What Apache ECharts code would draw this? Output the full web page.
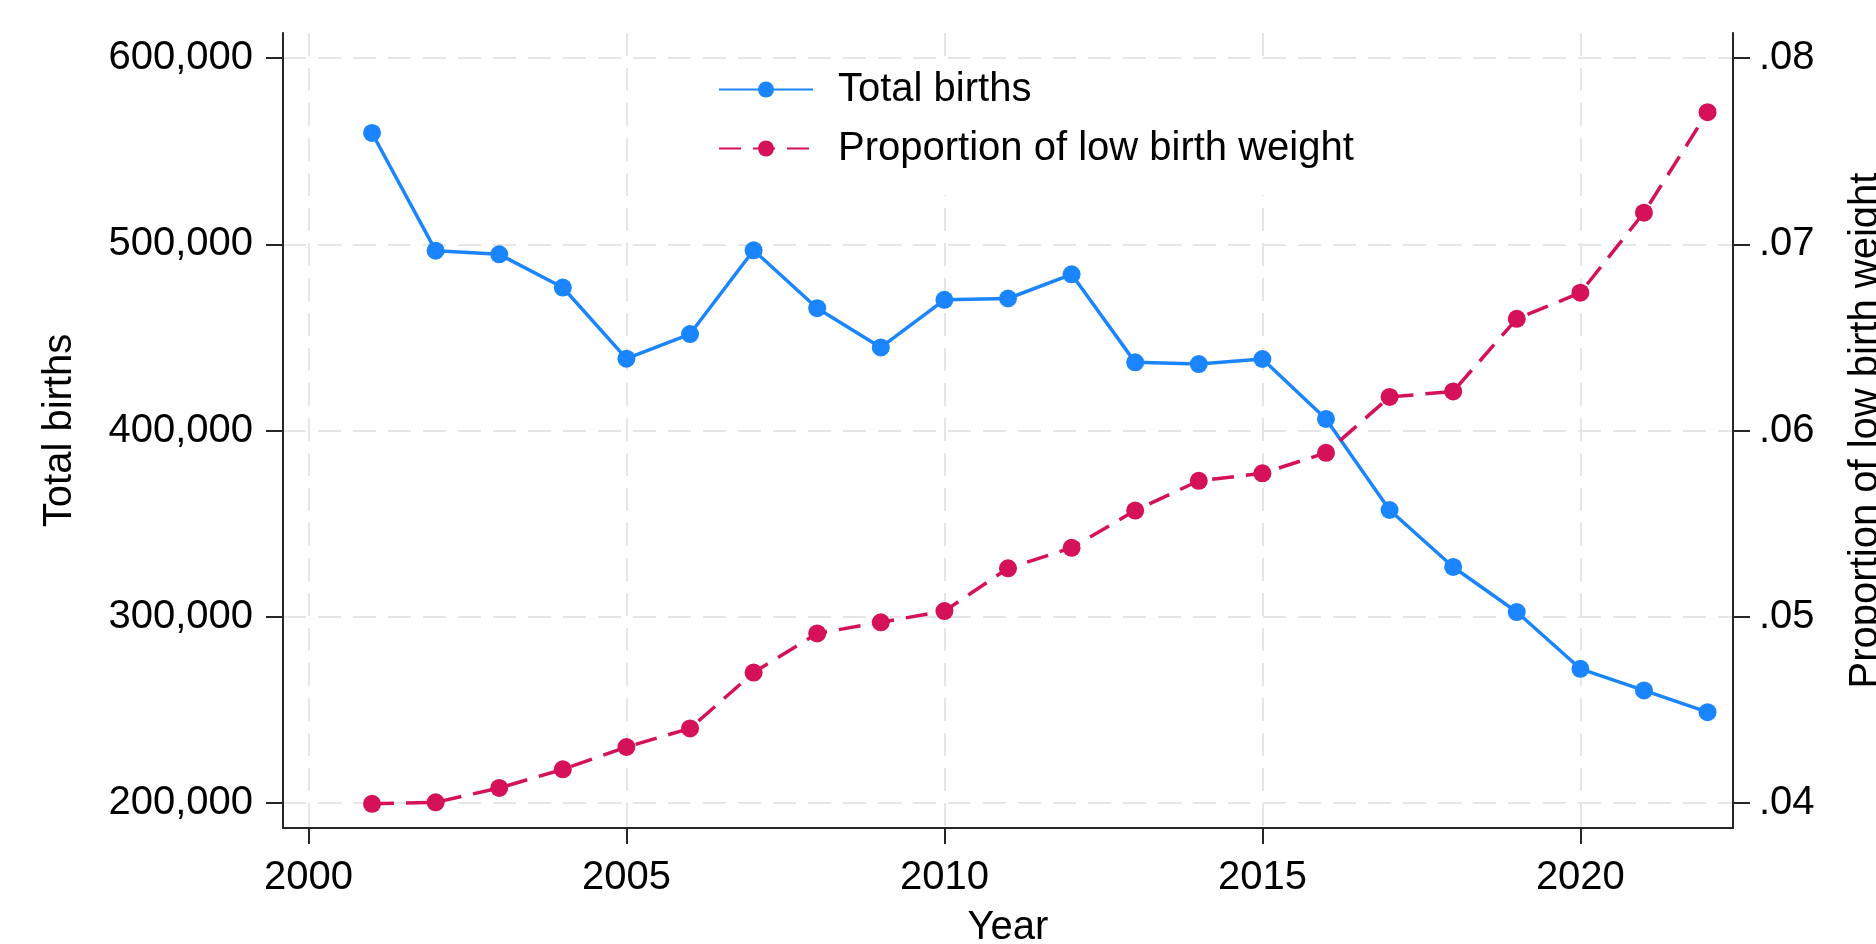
<!DOCTYPE html>
<html>
<head>
<meta charset="utf-8">
<script src="https://cdn.jsdelivr.net/npm/echarts@6/dist/echarts.min.js"></script>
<style>
  html, body { margin: 0; padding: 0; background: #fff; }
  #chart { width: 1876px; height: 944px; }
</style>
</head>
<body>
<div id="chart"></div>
<script>
// data
const years = [2001, 2002, 2003, 2004, 2005, 2006, 2007, 2008, 2009, 2010, 2011,
               2012, 2013, 2014, 2015, 2016, 2017, 2018, 2019, 2020, 2021, 2022]
const totalBirths = [559800, 496600, 494600, 476800, 438600, 451800, 496800, 465700,
                     444600, 470200, 470900, 483900, 436600, 435700, 438400, 406200,
                     357300, 326700, 302500, 272000, 260400, 248700]
const lowBirthWeight = [0.03995, 0.04003, 0.0408, 0.0418, 0.0430, 0.0440, 0.0470, 0.0491,
                        0.0497, 0.0503, 0.0526, 0.0537, 0.0557, 0.0573, 0.0577, 0.0588,
                        0.0618, 0.0621, 0.0660, 0.0674, 0.0717, 0.0771]
const yearTicks = [2000, 2005, 2010, 2015, 2020]
const birthTicks = [200000, 300000, 400000, 500000, 600000]
const propTicks = [0.04, 0.05, 0.06, 0.07, 0.08]

const blue = '#1a85ff'
const red = '#d41159'
const font = "'Liberation Sans', Arial, sans-serif"
const axisColor = '#262626'
const gridStyle = { color: '#e6e6e6', width: 2, type: [23, 12] }

const chart = echarts.init(document.getElementById('chart'))

const option = {
    animation: false,
    backgroundColor: '#fff',
    textStyle: { fontFamily: font },
    grid: { left: 283, right: 143, top: 33, bottom: 116, outerBoundsMode: 'none', containLabel: false },
    legend: {
        orient: 'vertical',
        left: 678,
        top: 61,
        itemWidth: 94,
        itemHeight: 20,
        itemGap: 14,
        backgroundColor: '#fff',
        padding: [6, 44, 24, 40],
        textStyle: { fontSize: 40, color: '#000', fontFamily: font, lineHeight: 45, padding: [0, 0, 0, 20] }
    },
    xAxis: {
        type: 'value',
        min: 1999.6,
        max: 2022.4,
        name: 'Year',
        nameLocation: 'middle',
        nameGap: 80,
        nameTextStyle: { fontSize: 40, color: '#000', fontFamily: font },
        axisLine: { show: true, onZero: false, lineStyle: { color: axisColor, width: 2 } },
        axisTick: { show: true, length: 16, customValues: yearTicks, lineStyle: { color: axisColor, width: 2 } },
        axisLabel: { customValues: yearTicks, fontSize: 40, color: '#000', margin: 30, formatter: v => String(v) },
        splitLine: { show: true, lineStyle: gridStyle }
    },
    yAxis: [
        {
            type: 'value',
            position: 'left',
            min: 186500,
            max: 613500,
            name: 'Total births',
            nameLocation: 'middle',
            nameGap: 203,
            nameTextStyle: { fontSize: 40, color: '#000', fontFamily: font },
            axisLine: { show: true, lineStyle: { color: axisColor, width: 2 } },
            axisTick: { show: true, length: 17, customValues: birthTicks, lineStyle: { color: axisColor, width: 2 } },
            axisLabel: {
                customValues: birthTicks, fontSize: 40, color: '#000', margin: 30,
                formatter: v => v.toLocaleString('en-US')
            },
            splitLine: { show: true, lineStyle: gridStyle }
        },
        {
            type: 'value',
            position: 'right',
            min: 0.03865,
            max: 0.08135,
            name: 'Proportion of low birth weight',
            nameLocation: 'middle',
            nameRotate: 90,
            nameGap: 113,
            nameTextStyle: { fontSize: 40, color: '#000', fontFamily: font },
            axisLine: { show: true, lineStyle: { color: axisColor, width: 2 } },
            axisTick: { show: true, length: 17, customValues: propTicks, lineStyle: { color: axisColor, width: 2 } },
            axisLabel: {
                customValues: propTicks, fontSize: 40, color: '#000', margin: 26,
                formatter: v => v.toFixed(2).replace(/^0/, '')
            },
            splitLine: { show: false }
        }
    ],
    series: [
        {
            name: 'Total births',
            type: 'line',
            yAxisIndex: 0,
            data: years.map((y, i) => [y, totalBirths[i]]),
            symbol: 'circle',
            symbolSize: 18,
            itemStyle: { color: blue },
            lineStyle: { color: blue, width: 3.5 }
        },
        {
            name: 'Proportion of low birth weight',
            type: 'line',
            yAxisIndex: 1,
            data: years.map((y, i) => [y, lowBirthWeight[i]]),
            symbol: 'circle',
            symbolSize: 18,
            itemStyle: { color: red },
            lineStyle: { color: red, width: 3.5, type: [22, 12] }
        }
    ]
}

chart.setOption(option)
</script>
</body>
</html>
